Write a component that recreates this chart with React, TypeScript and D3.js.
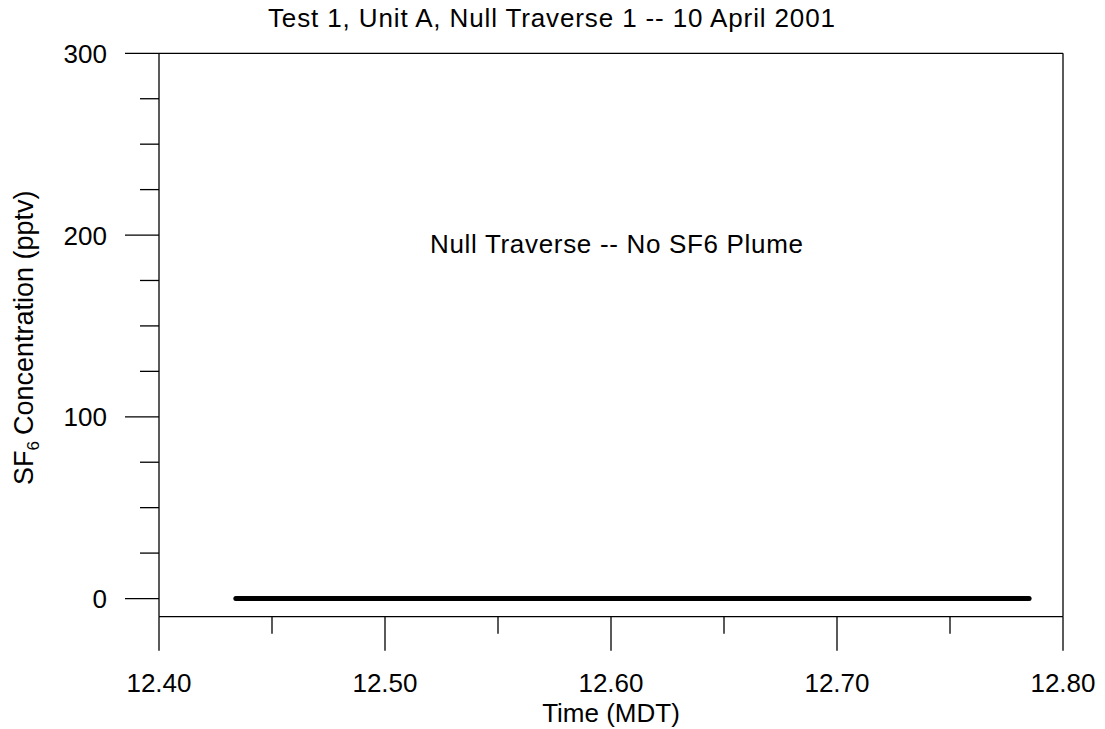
import React from "react";
import * as d3 from "d3";

const times: number[] = [12.434, 12.785];
const conc: number[] = [0, 0];
const xMajorTicks: number[] = [12.4, 12.5, 12.6, 12.7, 12.8];
const xMinorTicks: number[] = [12.45, 12.55, 12.65, 12.75];
const yMajorTicks: number[] = [0, 100, 200, 300];
const yMinorTicks: number[] = [25, 50, 75, 125, 150, 175, 225, 250, 275];

const title = "Test 1, Unit A, Null Traverse 1 -- 10 April 2001";
const annotation = "Null Traverse -- No SF6 Plume";
const xTitle = "Time (MDT)";

export default function App() {
  const W = 1105, H = 729;
  const left = 159, right = 1063, top = 53.3, bottom = 616.7;
  const x = d3.scaleLinear().domain([12.4, 12.8]).range([left, right]);
  const y = d3.scaleLinear().domain([-10, 300]).range([bottom, top]);
  const font = "'Liberation Sans', Arial, sans-serif";
  const sw = 1.3;
  const line = d3.line<number>().x((_, i) => x(times[i])).y((d) => y(d));

  return (
    <svg width={W} height={H} style={{ position: "absolute", left: 0, top: 0, background: "#fff" }}
      fontFamily={font} fill="#000">
      <rect x={0} y={0} width={W} height={H} fill="#fff" />
      <line x1={left} x2={right} y1={top} y2={top} stroke="#000" strokeWidth={sw} />
      <line x1={left} x2={right} y1={bottom} y2={bottom} stroke="#000" strokeWidth={sw} />
      <line x1={left} x2={left} y1={top} y2={bottom} stroke="#000" strokeWidth={sw} />
      <line x1={right} x2={right} y1={top} y2={bottom} stroke="#000" strokeWidth={sw} />
      {yMajorTicks.map((t) => (
        <g key={"ym" + t}>
          <line x1={left - 34} x2={left} y1={y(t)} y2={y(t)} stroke="#000" strokeWidth={sw} />
          <text x={107} y={y(t) + 9.5} fontSize={26} textAnchor="end">{t}</text>
        </g>
      ))}
      {yMinorTicks.map((t) => (
        <line key={"yn" + t} x1={left - 19} x2={left} y1={y(t)} y2={y(t)} stroke="#000" strokeWidth={sw} />
      ))}
      {xMajorTicks.map((t) => (
        <g key={"xm" + t}>
          <line x1={x(t)} x2={x(t)} y1={bottom} y2={bottom + 34} stroke="#000" strokeWidth={sw} />
          <text x={x(t)} y={692} fontSize={26} textAnchor="middle">{t.toFixed(2)}</text>
        </g>
      ))}
      {xMinorTicks.map((t) => (
        <line key={"xn" + t} x1={x(t)} x2={x(t)} y1={bottom} y2={bottom + 17} stroke="#000" strokeWidth={sw} />
      ))}
      <path d={line(conc) || ""} fill="none" stroke="#000" strokeWidth={5} strokeLinecap="round" />
      <text x={268} y={27} fontSize={26} textLength={567} lengthAdjust="spacing">{title}</text>
      <text x={430} y={253} fontSize={26} textLength={373} lengthAdjust="spacing">{annotation}</text>
      <text x={(left + right) / 2} y={722} fontSize={26} textAnchor="middle">{xTitle}</text>
      <text transform="translate(33,485) rotate(-90)" fontSize={27}>
        SF<tspan fontSize={17} dy={6}>6</tspan><tspan dy={-6} dx={6}>Concentration (pptv)</tspan>
      </text>
    </svg>
  );
}
